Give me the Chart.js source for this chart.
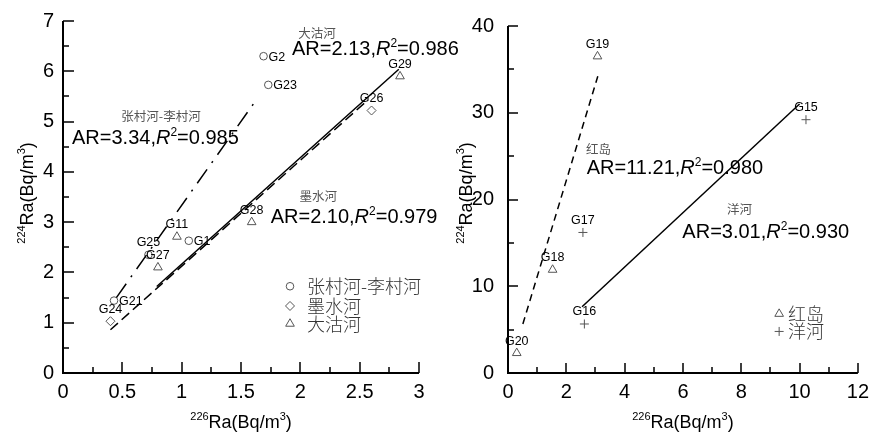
<!DOCTYPE html>
<html><head><meta charset="utf-8">
<script src="https://cdn.jsdelivr.net/npm/chart.js@4.4.0/dist/chart.umd.min.js"></script>
<style>
html,body{margin:0;padding:0;background:#fff;overflow:hidden}
#wrap{position:relative;width:876px;height:432px;background:#fff}
canvas{position:absolute;top:0}
#c1{left:0;z-index:1}
#c2{left:440px;z-index:2}
</style></head><body>
<div id="wrap"><canvas id="c1" width="500" height="432"></canvas><canvas id="c2" width="436" height="432"></canvas></div>
<script>
// ---------- left panel data ----------
const zcNames = ['G2','G23','G1','G25','G21'];           // 张村河-李村河
const zcRa226 = [1.69, 1.73, 1.06, 0.72, 0.43];
const zcRa224 = [6.30, 5.73, 2.63, 2.35, 1.44];
const msNames = ['G26','G24'];                             // 墨水河
const msRa226 = [2.60, 0.40];
const msRa224 = [5.22, 1.03];
const dgNames = ['G29','G28','G11','G27'];                 // 大沽河
const dgRa226 = [2.84, 1.59, 0.96, 0.80];
const dgRa224 = [5.90, 3.00, 2.71, 2.10];
const zcFitX = [0.45, 1.64], zcFitY = [1.50, 5.47];
const msFitX = [0.40, 2.57], msFitY = [0.86, 5.43];
const dgFitX = [0.79, 2.83], dgFitY = [1.72, 6.04];
const leftXTicks = ['0','0.5','1','1.5','2','2.5','3'];
const leftYTicks = ['0','1','2','3','4','5','6','7'];
const leftSeries = ['张村河-李村河','墨水河','大沽河'];
const leftAR = ['3.34','2.10','2.13'];
const leftR2 = ['0.985','0.979','0.986'];

// ---------- right panel data ----------
const hdNames = ['G19','G18','G20'];                       // 红岛
const hdRa226 = [3.07, 1.53, 0.30];
const hdRa224 = [36.5, 11.9, 2.3];
const yhNames = ['G15','G17','G16'];                       // 洋河
const yhRa226 = [10.22, 2.57, 2.62];
const yhRa224 = [29.2, 16.2, 5.65];
const hdFitX = [0.51, 3.08], hdFitY = [5.65, 34.2];
const yhFitX = [2.54, 10.0], yhFitY = [7.64, 31.0];
const rightXTicks = ['0','2','4','6','8','10','12'];
const rightYTicks = ['0','10','20','30','40'];
const rightSeries = ['红岛','洋河'];
const rightAR = ['11.21','3.01'];
const rightR2 = ['0.980','0.930'];

const labelRightOf = ['G2','G23','G1','G21'];

const FONT = '"Liberation Sans", Arial, sans-serif';
const CJK = '"Noto Sans CJK SC", "Liberation Sans", sans-serif';
const MARK = '#555';

function pts(xs, ys){ return xs.map((x,i)=>({x:x, y:ys[i]})); }
function markerDS(label, names, xs, ys, style, r){
  return {type:'scatter', label:label, names:names, data:pts(xs,ys), pointStyle:style,
    pointRadius:r, pointHoverRadius:r, borderColor:MARK, backgroundColor:'rgba(0,0,0,0)',
    pointBorderWidth:1, borderWidth:1, showLine:false};
}
function fitDS(xs, ys, dash){
  return {type:'line', data:pts(xs,ys), borderColor:'#000', borderWidth:1.5, borderDash:dash,
    pointRadius:0, pointHoverRadius:0, fill:false, tension:0, showLine:true};
}
function drawRich(ctx, x, y, segs, align){
  ctx.save();
  ctx.textBaseline = 'alphabetic';
  ctx.textAlign = 'left';
  let total = 0;
  segs.forEach(s=>{ ctx.font = s.font; s.w = ctx.measureText(s.t).width; total += s.w; });
  let cx = align === 'center' ? x - total/2 : x;
  segs.forEach(s=>{ ctx.font = s.font; ctx.fillStyle = s.color || '#000'; ctx.fillText(s.t, cx, y + (s.dy||0)); cx += s.w; });
  ctx.restore();
}
function arSegs(ar, r2){
  return [{t:'AR='+ar+',', font:'20px '+FONT},{t:'R', font:'italic 20px '+FONT},
          {t:'2', font:'12px '+FONT, dy:-8},{t:'='+r2, font:'20px '+FONT}];
}
function titleSegs(iso){
  return [{t:iso, font:'11px '+FONT, dy:-8},{t:'Ra(Bq/m', font:'18px '+FONT},
          {t:'3', font:'11px '+FONT, dy:-8},{t:')', font:'18px '+FONT}];
}
function drawMarker(ctx, style, r, x, y){
  ctx.save();
  ctx.strokeStyle = MARK; ctx.fillStyle = 'rgba(0,0,0,0)'; ctx.lineWidth = 1;
  if (Chart.helpers && Chart.helpers.drawPoint) {
    Chart.helpers.drawPoint(ctx, {pointStyle:style, radius:r, borderWidth:1, rotation:0}, x, y);
  }
  ctx.restore();
}

function panelPlugin(cfg){
  return {
    id: 'panel',
    afterDraw(chart){
      const ctx = chart.ctx;
      const a = chart.chartArea;
      const sx = chart.scales.x, sy = chart.scales.y;
      ctx.save();
      // axes
      ctx.strokeStyle = '#000'; ctx.lineWidth = 2;
      ctx.beginPath(); ctx.moveTo(a.left, a.top); ctx.lineTo(a.left, a.bottom); ctx.lineTo(a.right, a.bottom); ctx.stroke();
      ctx.lineWidth = 1.5;
      ctx.beginPath();
      for (let i = 0; cfg.xMin + i*cfg.xMinor <= cfg.xMax + 1e-9; i++) {
        const v = cfg.xMin + i*cfg.xMinor;
        if (i === 0) continue;
        const px = Math.round(sx.getPixelForValue(v));
        const len = (i % cfg.xRatio === 0) ? cfg.majorLen : cfg.minorLen;
        ctx.moveTo(px, a.bottom); ctx.lineTo(px, a.bottom - len);
      }
      for (let i = 0; cfg.yMin + i*cfg.yMinor <= cfg.yMax + 1e-9; i++) {
        const v = cfg.yMin + i*cfg.yMinor;
        if (i === 0) continue;
        const py = Math.round(sy.getPixelForValue(v));
        const len = (i % cfg.yRatio === 0) ? cfg.majorLen : cfg.minorLen;
        ctx.moveTo(a.left, py); ctx.lineTo(a.left + len, py);
      }
      ctx.stroke();
      // sample labels
      ctx.font = '12.5px ' + FONT; ctx.fillStyle = '#000';
      chart.data.datasets.forEach((ds, di)=>{
        if (!ds.names) return;
        const meta = chart.getDatasetMeta(di);
        meta.data.forEach((el, i)=>{
          const n = ds.names[i];
          if (labelRightOf.indexOf(n) >= 0) {
            ctx.textAlign = 'left'; ctx.textBaseline = 'middle';
            ctx.fillText(n, el.x + 5, el.y + 1);
          } else {
            ctx.textAlign = 'center'; ctx.textBaseline = 'middle';
            ctx.fillText(n, el.x, el.y - 12);
          }
        });
      });
      // annotations
      cfg.notes.forEach(nt=>{
        const px = sx.getPixelForValue(nt.nameX), py = sy.getPixelForValue(nt.nameY);
        ctx.font = '12.5px ' + CJK; ctx.fillStyle = '#555'; ctx.textAlign = 'center'; ctx.textBaseline = 'middle';
        ctx.fillText(nt.name, px, py);
        drawRich(ctx, sx.getPixelForValue(nt.arX), sy.getPixelForValue(nt.arY), arSegs(nt.ar, nt.r2), 'left');
      });
      // legend
      cfg.legend.forEach(lg=>{
        const px = sx.getPixelForValue(cfg.legX), py = sy.getPixelForValue(lg.y);
        drawMarker(ctx, lg.style, lg.r, px, py);
        ctx.font = '300 18px ' + CJK; ctx.fillStyle = '#333'; ctx.textAlign = 'left'; ctx.textBaseline = 'middle';
        ctx.fillText(lg.text, sx.getPixelForValue(cfg.legTextX), py);
      });
      // axis titles
      drawRich(ctx, (a.left + a.right)/2, 428, titleSegs('226'), 'center');
      ctx.save();
      ctx.translate(cfg.yTitleX, 193);
      ctx.rotate(-Math.PI/2);
      drawRich(ctx, 0, 0, titleSegs('224'), 'center');
      ctx.restore();
      ctx.restore();
    }
  };
}

function makeChart(id, datasets, sc, plugin){
  return new Chart(document.getElementById(id), {
    type: 'scatter',
    data: {datasets: datasets},
    options: {
      responsive: false, animation: false, events: [],
      layout: {padding: {left: 0, right: sc.padRight, top: sc.padTop, bottom: 0}},
      plugins: {legend: {display: false}, tooltip: {enabled: false}},
      scales: {
        x: {type:'linear', min: sc.xMin, max: sc.xMax,
            grid:{display:false, drawTicks:false}, border:{display:false},
            ticks:{stepSize: sc.xStep, autoSkip:false, maxRotation:0, padding:7, color:'#000',
                   font:{size:20, family:FONT}, callback:(v,i)=>sc.xLabels[i]},
            afterFit: s=>{ s.height = sc.xH; }},
        y: {type:'linear', min: sc.yMin, max: sc.yMax,
            grid:{display:false, drawTicks:false}, border:{display:false},
            ticks:{stepSize: sc.yStep, autoSkip:false, padding: sc.yPad, color:'#000',
                   font:{size:20, family:FONT}, callback:(v,i)=>sc.yLabels[i]},
            afterFit: s=>{ s.width = sc.yW; }}
      }
    },
    plugins: [plugin]
  });
}

// left chart
makeChart('c1', [
  fitDS(zcFitX, zcFitY, [17,8,2,8]),
  fitDS(msFitX, msFitY, [10,5]),
  fitDS(dgFitX, dgFitY, []),
  markerDS(leftSeries[0], zcNames, zcRa226, zcRa224, 'circle', 3.8),
  markerDS(leftSeries[1], msNames, msRa226, msRa224, 'rectRot', 4.5),
  markerDS(leftSeries[2], dgNames, dgRa226, dgRa224, 'triangle', 5)
], {xMin:0, xMax:3, xStep:0.5, yMin:0, yMax:7, yStep:1, xLabels:leftXTicks, yLabels:leftYTicks,
    padRight:81, padTop:16, xH:59, yW:63, yPad:9},
  panelPlugin({xMin:0, xMax:3, xMinor:0.25, xRatio:2, yMin:0, yMax:7, yMinor:0.5, yRatio:2,
    majorLen:11, minorLen:6, yTitleX:33,
    notes:[
      {name:leftSeries[2], nameX:2.14, nameY:6.76, ar:leftAR[2], r2:leftR2[2], arX:1.93, arY:6.33},
      {name:leftSeries[0], nameX:0.826, nameY:5.10, ar:leftAR[0], r2:leftR2[0], arX:0.076, arY:4.55},
      {name:leftSeries[1], nameX:2.15, nameY:3.51, ar:leftAR[1], r2:leftR2[1], arX:1.75, arY:2.98}
    ],
    legX:1.913, legTextX:2.056,
    legend:[
      {style:'circle', r:3.8, text:leftSeries[0], y:1.725},
      {style:'rectRot', r:4.5, text:leftSeries[1], y:1.333},
      {style:'triangle', r:5, text:leftSeries[2], y:0.98}
    ]}));

// right chart
makeChart('c2', [
  fitDS(hdFitX, hdFitY, [7,5]),
  fitDS(yhFitX, yhFitY, []),
  markerDS(rightSeries[0], hdNames, hdRa226, hdRa224, 'triangle', 5),
  markerDS(rightSeries[1], yhNames, yhRa226, yhRa224, 'cross', 4.5)
], {xMin:0, xMax:12, xStep:2, yMin:0, yMax:40, yStep:10, xLabels:rightXTicks, yLabels:rightYTicks,
    padRight:13, padTop:19, xH:59, yW:68, yPad:14},
  panelPlugin({xMin:0, xMax:12, xMinor:1, xRatio:2, yMin:0, yMax:40, yMinor:5, yRatio:2,
    majorLen:10, minorLen:6, yTitleX:32,
    notes:[
      {name:rightSeries[0], nameX:3.105, nameY:25.8, ar:rightAR[0], r2:rightR2[0], arX:2.70, arY:22.97},
      {name:rightSeries[1], nameX:7.94, nameY:18.9, ar:rightAR[1], r2:rightR2[1], arX:5.98, arY:15.52}
    ],
    legX:9.30, legTextX:9.60,
    legend:[
      {style:'triangle', r:5, text:rightSeries[0], y:6.82},
      {style:'cross', r:4.5, text:rightSeries[1], y:4.79}
    ]}));
</script></body></html>
